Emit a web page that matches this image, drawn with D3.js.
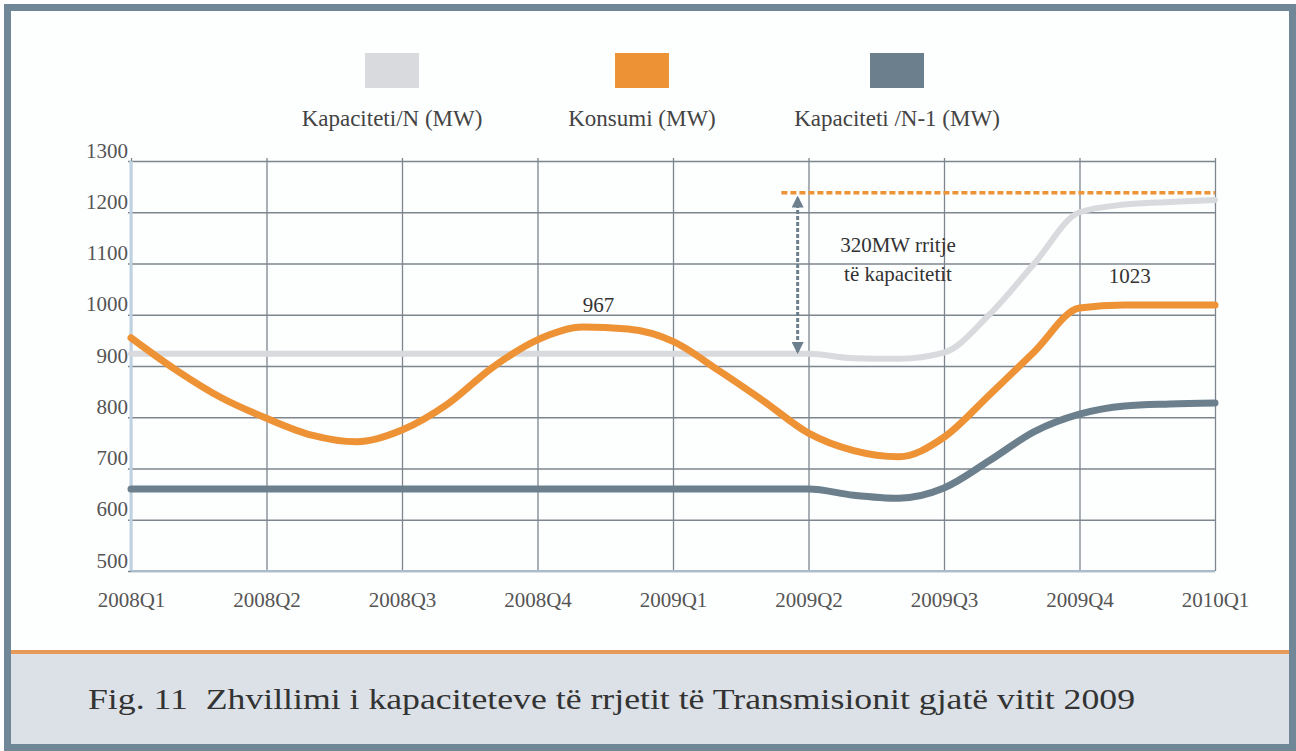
<!DOCTYPE html>
<html>
<head>
<meta charset="utf-8">
<script src="https://cdn.jsdelivr.net/npm/d3@7"></script>
<style>
  html, body { margin: 0; padding: 0; background: #fff; }
  svg { display: block; }
  text { font-family: "Liberation Serif", "DejaVu Serif", serif; white-space: pre; }
</style>
</head>
<body>
<div id="chart"></div>
<script>
// quarter labels on the x axis
var quarterLabels = ["2008Q1", "2008Q2", "2008Q3", "2008Q4", "2009Q1", "2009Q2", "2009Q3", "2009Q4", "2010Q1"];
var yTicks = [500, 600, 700, 800, 900, 1000, 1100, 1200, 1300];

// monthly readings (3 per quarter, 25 points from 2008Q1 to 2010Q1)
var kapacitetiN = [924, 924, 924, 924, 924, 924, 924, 924, 924, 924, 924, 924, 924,
                   924, 924, 924, 915, 914, 926, 1000, 1100, 1200, 1215, 1220, 1224];
var konsumi = [955, 892, 838, 798, 765, 752, 775, 825, 897, 951, 976, 972, 948,
               892, 832, 769, 735, 723, 761, 843, 928, 1013, 1019, 1019, 1019];
var kapacitetiN1 = [660, 660, 660, 660, 660, 660, 660, 660, 660, 660, 660, 660, 660,
                    660, 660, 660, 648, 642, 662, 715, 772, 806, 822, 826, 828];

var seriesNames = ["Kapaciteti/N (MW)", "Konsumi (MW)", "Kapaciteti /N-1 (MW)"];
var seriesColors = ["#d8dadd", "#ee9236", "#6b7f8d"];

// annotations
var peakLabels = [{ value: "967", q: 3.45, v: 967 }, { value: "1023", q: 7.37, v: 1023 }];
var targetLevel = 1238;
var targetStart = 4.8;
var arrowQ = 4.92;
var arrowFrom = 1228, arrowTo = 928;
var noteLines = ["320MW rritje", "të kapacitetit"];
var caption = "Fig. 11  Zhvillimi i kapaciteteve të rrjetit të Transmisionit gjatë vitit 2009";

var W = 1296, H = 751;
var svg = d3.select("#chart").append("svg").attr("width", W).attr("height", H);

// frame and caption band
svg.append("rect").attr("x", 7.5).attr("y", 7.5).attr("width", 1285).attr("height", 740)
  .attr("fill", "#fdfefe").attr("stroke", "#6f8797").attr("stroke-width", 7);
svg.append("rect").attr("x", 11).attr("y", 654).attr("width", 1278).attr("height", 90).attr("fill", "#dbe1e7");
svg.append("rect").attr("x", 11).attr("y", 650).attr("width", 1278).attr("height", 4).attr("fill", "#e79a5a");
svg.append("text").attr("x", 88).attr("y", 709).attr("font-size", 29).attr("fill", "#333")
  .attr("textLength", 1047).attr("lengthAdjust", "spacingAndGlyphs").text(caption);

var x = d3.scaleLinear().domain([0, 8]).range([131, 1215]);
var y = d3.scaleLinear().domain([500, 1300]).range([571, 161]);

// grid via axes
var gx = svg.append("g").attr("transform", "translate(0,571)")
  .call(d3.axisBottom(x).tickValues(d3.range(quarterLabels.length))
    .tickFormat(function(i) { return quarterLabels[i]; })
    .tickSize(-(571 - 158)));
gx.select(".domain").remove();
gx.selectAll("line").attr("stroke", "#7d868e").attr("stroke-width", 1.3);
gx.selectAll("text").attr("font-size", 21).attr("fill", "#555").attr("y", 36).attr("dy", 0);

var gy = svg.append("g").attr("transform", "translate(131,0)")
  .call(d3.axisLeft(y).tickValues(yTicks).tickFormat(d3.format("d")).tickSize(-(1215 - 131)));
gy.select(".domain").remove();
gy.selectAll("line").attr("stroke", "#7d868e").attr("stroke-width", 1.3).attr("x1", -3);
gy.selectAll("text").attr("font-size", 21).attr("fill", "#555").attr("x", -3).attr("dy", -4);

// left axis edge (light blue)
svg.append("line").attr("x1", x(0)).attr("x2", x(0)).attr("y1", y(1300)).attr("y2", y(500))
  .attr("stroke", "#bfd2e2").attr("stroke-width", 3);
svg.append("line").attr("x1", x(0)).attr("x2", x(8)).attr("y1", y(500)).attr("y2", y(500))
  .attr("stroke", "#a9bccb").attr("stroke-width", 2);

var line = d3.line()
  .x(function(d, i) { return x(i / 3); })
  .y(function(d) { return y(d); })
  .curve(d3.curveMonotoneX);

var allSeries = [kapacitetiN, konsumi, kapacitetiN1];
var widths = [6, 7, 7];
[0, 2, 1].forEach(function(k) {
  svg.append("path").datum(allSeries[k]).attr("d", line)
    .attr("fill", "none").attr("stroke", seriesColors[k]).attr("stroke-width", widths[k])
    .attr("stroke-linecap", "round").attr("stroke-linejoin", "round");
});

// dashed target line
svg.append("line").attr("x1", x(targetStart)).attr("x2", x(8))
  .attr("y1", y(targetLevel)).attr("y2", y(targetLevel))
  .attr("stroke", "#ee9236").attr("stroke-width", 3.5).attr("stroke-dasharray", "6,3");

// double arrow
var defs = svg.append("defs");
defs.append("marker").attr("id", "ah").attr("viewBox", "0 0 10 10").attr("refX", 8).attr("refY", 5)
  .attr("markerWidth", 4).attr("markerHeight", 4).attr("orient", "auto-start-reverse")
  .append("path").attr("d", "M0,0L10,5L0,10Z").attr("fill", "#6b7f8d");
svg.append("line").attr("x1", x(arrowQ)).attr("x2", x(arrowQ))
  .attr("y1", y(arrowFrom)).attr("y2", y(arrowTo))
  .attr("stroke", "#6b7f8d").attr("stroke-width", 3).attr("stroke-dasharray", "4,2")
  .attr("marker-start", "url(#ah)").attr("marker-end", "url(#ah)");

svg.selectAll(".note").data(noteLines).enter().append("text")
  .attr("x", 898).attr("y", function(d, i) { return 252 + i * 29; })
  .attr("text-anchor", "middle").attr("font-size", 21).attr("fill", "#333").text(function(d) { return d; });

svg.selectAll(".peak").data(peakLabels).enter().append("text")
  .attr("x", function(d) { return x(d.q); }).attr("y", function(d) { return y(d.v) - 20; })
  .attr("text-anchor", "middle").attr("font-size", 21).attr("fill", "#333").text(function(d) { return d.value; });

// legend
var legendX = [392, 642, 897];
var lg = svg.selectAll(".leg").data(seriesNames).enter().append("g");
lg.append("rect").attr("x", function(d, i) { return legendX[i] - 27; }).attr("y", 53)
  .attr("width", 54).attr("height", 35).attr("fill", function(d, i) { return seriesColors[i]; });
lg.append("text").attr("x", function(d, i) { return legendX[i]; }).attr("y", 126)
  .attr("text-anchor", "middle").attr("font-size", 23).attr("fill", "#444").text(function(d) { return d; });
</script>
</body>
</html>
